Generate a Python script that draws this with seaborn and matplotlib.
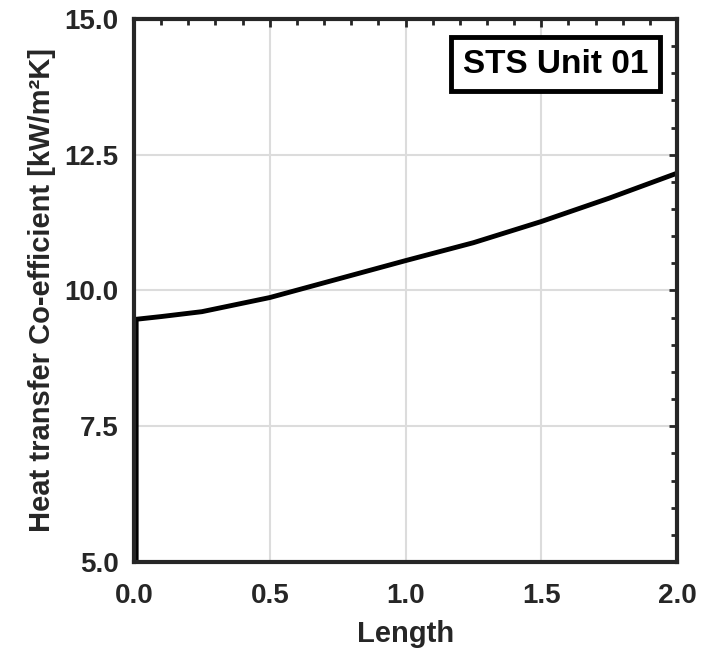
import numpy as np
import pandas as pd
import matplotlib
matplotlib.use("Agg")
import matplotlib.pyplot as plt
import seaborn as sns
from matplotlib.ticker import MultipleLocator, FormatStrFormatter

length = [0.008, 0.008, 0.1, 0.25, 0.5, 0.75, 1.0, 1.25, 1.5, 1.75, 2.0]
htc = [5.0, 9.47, 9.52, 9.61, 9.87, 10.21, 10.55, 10.88, 11.27, 11.70, 12.16]
label = "STS Unit 01"

sns.set_style("white")
plt.rcParams['font.family'] = ['Liberation Sans', 'DejaVu Sans']
plt.rcParams['font.weight'] = 'bold'

fig = plt.figure(figsize=(7.2, 6.49), dpi=100)
ax = fig.add_axes([134/720, 1 - 562/649, (677-134)/720, (562-19)/649])

df = pd.DataFrame({"Length": length, "HTC": htc})
sns.lineplot(data=df, x="Length", y="HTC", ax=ax, color="black", linewidth=3.5,
             sort=False, estimator=None, label=label)

ax.set_xlim(0, 2.0)
ax.set_ylim(5.0, 15.0)
ax.xaxis.set_major_locator(MultipleLocator(0.5))
ax.xaxis.set_minor_locator(MultipleLocator(0.1))
ax.yaxis.set_major_locator(MultipleLocator(2.5))
ax.yaxis.set_minor_locator(MultipleLocator(0.5))
ax.xaxis.set_major_formatter(FormatStrFormatter('%.1f'))
ax.yaxis.set_major_formatter(FormatStrFormatter('%.1f'))
ax.grid(True, which='major', color='#dcdcdc', linewidth=1.5)
ax.tick_params(which='both', direction='in', top=True, right=True, color='#262626')
ax.tick_params(axis='x', which='major', length=6, width=2, labelsize=20, pad=15)
ax.tick_params(axis='y', which='major', length=6, width=2, labelsize=20, pad=11)
ax.tick_params(which='minor', length=4, width=2)
for lab in ax.get_xticklabels() + ax.get_yticklabels():
    lab.set_fontweight('bold')
    lab.set_color('#262626')
for s in ax.spines.values():
    s.set_linewidth(3)
    s.set_color('#262626')
ax.set_xlabel("Length", fontsize=21, fontweight='bold', color='#262626', labelpad=8)
ax.set_ylabel("Heat transfer Co-efficient [kW/m²K]", fontsize=21, fontweight='bold',
              color='#262626', labelpad=6)

leg = ax.legend(loc='upper right', handlelength=0, handletextpad=0, fontsize=24,
                frameon=True, fancybox=False, borderpad=0.35, borderaxespad=0,
                bbox_to_anchor=(0.969, 0.967))
for h in leg.legend_handles:
    h.set_visible(False)
leg.get_frame().set_edgecolor('black')
leg.get_frame().set_linewidth(3.5)
leg.get_frame().set_alpha(1)
for t in leg.get_texts():
    t.set_fontweight('bold')
    t.set_color('black')

fig.savefig("out.png", dpi=100)
